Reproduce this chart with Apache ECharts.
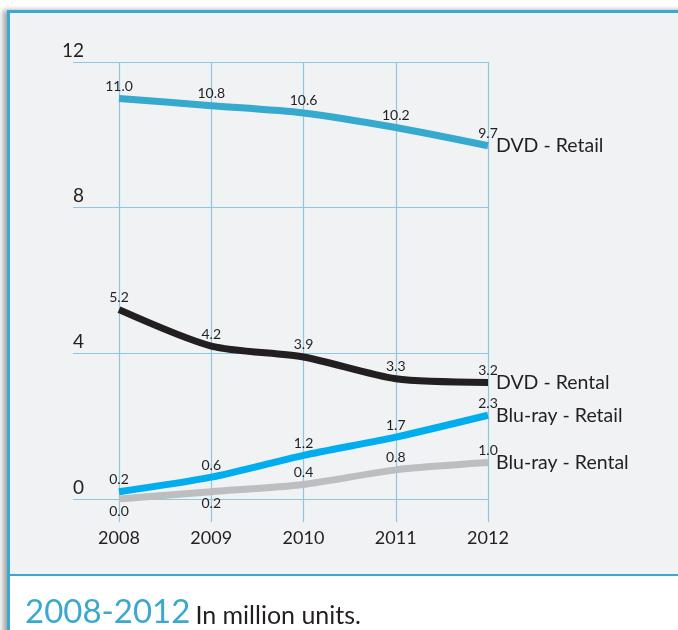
<!DOCTYPE html>
<html>
<head>
<meta charset="utf-8">
<script src="https://cdn.jsdelivr.net/npm/echarts@6/dist/echarts.min.js"></script>
<style>
  html, body { margin: 0; padding: 0; background: #ffffff; }
  #wrap { position: relative; width: 678px; height: 630px; overflow: hidden; }
  #frame { position: absolute; left: 7px; top: 10px; width: 700px; height: 640px;
    border-left: 3px solid #3aa8cf; border-top: 3px solid #3aa8cf; background: #f1f2f4;
    box-shadow: -4px 0 5px rgba(0,0,0,0.35); }
  #footer { position: absolute; left: 10px; top: 574px; width: 700px; height: 70px;
    background: #ffffff; border-top: 2px solid #3aa8cf; }
  #chart { position: absolute; left: 0; top: 0; width: 678px; height: 630px; }
</style>
</head>
<body>
<div id="wrap">
  <div id="frame"></div>
  <div id="footer"></div>
  <div id="chart"></div>
</div>
<script>
const years = ['2008', '2009', '2010', '2011', '2012'];
const dvdRetail = [11.0, 10.8, 10.6, 10.2, 9.7];
const dvdRental = [5.2, 4.2, 3.9, 3.3, 3.2];
const blurayRetail = [0.2, 0.6, 1.2, 1.7, 2.3];
const blurayRental = [0.0, 0.2, 0.4, 0.8, 1.0];
const yTicks = { min: 0, max: 12, interval: 4 };

const FONT = 'Lato';
const TXT = '#231f20';
const GRID = '#8cc8e2';

function mkSeries(name, values, color, belowIdx) {
  return {
    name: name,
    type: 'line',
    xAxisIndex: 1,
    yAxisIndex: 1,
    smooth: 0.25,
    symbol: 'circle',
    symbolSize: 0,
    showSymbol: true,
    lineStyle: { color: color, width: 7, cap: 'butt', join: 'round' },
    itemStyle: { color: color },
    data: values.map((v, i) => (belowIdx.indexOf(i) >= 0)
      ? { value: v, label: { position: 'bottom', distance: 5 } }
      : v),
    label: {
      show: true, position: 'top', distance: 5,
      formatter: p => Number(p.value).toFixed(1),
      fontFamily: FONT, fontSize: 14, color: TXT
    },
    endLabel: {
      show: true, formatter: '{a}', distance: 8,
      fontFamily: FONT, fontSize: 19.5, color: TXT
    },
    emphasis: { disabled: true },
    animation: false
  };
}

const chart = echarts.init(document.getElementById('chart'), null, { renderer: 'canvas' });
chart.setOption({
  backgroundColor: 'transparent',
  animation: false,
  title: {
    left: 20, top: 586,
    text: '{a|2008-2012} {b|In million units.}',
    textStyle: {
      fontWeight: 'normal',
      rich: {
        a: { fontFamily: FONT, fontWeight: 'normal', fontSize: 33, color: '#3aa8cf', lineHeight: 38, verticalAlign: 'bottom' },
        b: { fontFamily: FONT, fontWeight: 'normal', fontSize: 25, color: TXT, lineHeight: 38, verticalAlign: 'bottom', padding: [0, 0, 1, 0] }
      }
    }
  },
  grid: [
    { left: 73, right: 190, top: 62, bottom: 131 },
    { left: 119, right: 190, top: 62, bottom: 131 }
  ],
  xAxis: [
    { gridIndex: 0, type: 'value', show: false },
    {
      gridIndex: 1, type: 'category', data: years, boundaryGap: false,
      axisLine: { show: false },
      axisTick: { show: true, length: 23, lineStyle: { color: GRID, width: 1.2 } },
      splitLine: { show: true, lineStyle: { color: GRID, width: 1.2 } },
      axisLabel: { margin: 30, fontFamily: FONT, fontSize: 18, color: TXT }
    }
  ],
  yAxis: [
    {
      gridIndex: 0, type: 'value', min: yTicks.min, max: yTicks.max, interval: yTicks.interval,
      axisLine: { show: false }, axisTick: { show: false },
      splitLine: { show: true, lineStyle: { color: GRID, width: 1.2 } },
      axisLabel: {
        inside: true, margin: 11, align: 'right', verticalAlign: 'bottom',
        padding: [0, 0, 2, 0],
        fontFamily: FONT, fontSize: 19, color: TXT
      }
    },
    { gridIndex: 1, type: 'value', min: yTicks.min, max: yTicks.max, interval: yTicks.interval, show: false }
  ],
  series: [
    mkSeries('DVD - Retail', dvdRetail, '#36a9ce', []),
    mkSeries('DVD - Rental', dvdRental, '#231f20', []),
    mkSeries('Blu-ray - Retail', blurayRetail, '#00aeef', []),
    mkSeries('Blu-ray - Rental', blurayRental, '#bcbec0', [0, 1])
  ]
});
</script>
</body>
</html>
